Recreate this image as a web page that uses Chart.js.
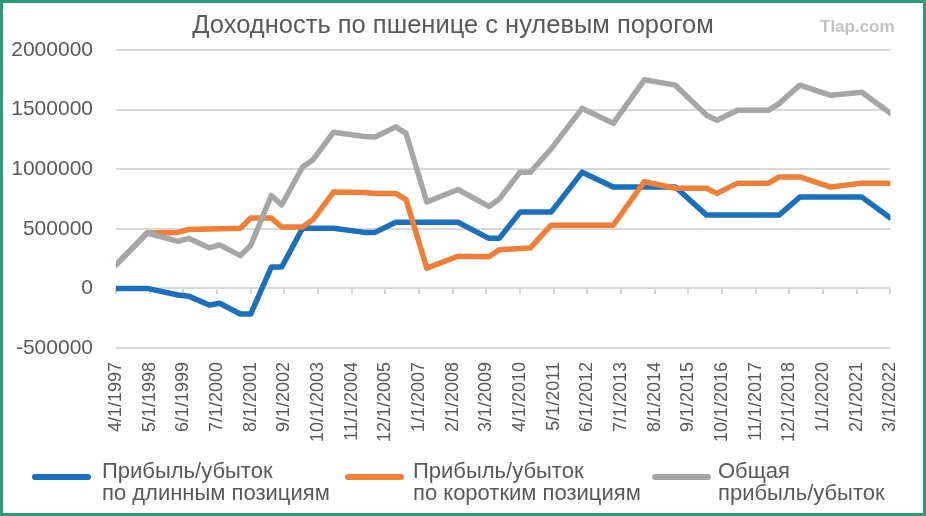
<!DOCTYPE html>
<html lang="ru">
<head>
  <meta charset="UTF-8">
  <title>Доходность по пшенице с нулевым порогом</title>
  <style>
    html, body {
      margin: 0;
      padding: 0;
      background: #ffffff;
    }
    #wrap {
      width: 926px;
      height: 516px;
    }
  </style>
</head>
<body>
  <div id="wrap">
    <canvas id="myChart" width="926" height="516"></canvas>
  </div>

  <script src="https://cdn.jsdelivr.net/npm/chart.js"></script>
  <script>
    // подписи оси X, шаг 13 месяцев
    const dateLabels = [
      '4/1/1997', '5/1/1998', '6/1/1999', '7/1/2000', '8/1/2001', '9/1/2002',
      '10/1/2003', '11/1/2004', '12/1/2005', '1/1/2007', '2/1/2008', '3/1/2009',
      '4/1/2010', '5/1/2011', '6/1/2012', '7/1/2013', '8/1/2014', '9/1/2015',
      '10/1/2016', '11/1/2017', '12/1/2018', '1/1/2020', '2/1/2021', '3/1/2022'
    ];
    const labelStep = 13;

    // месяц от 4/1/1997, где у линий есть излом
    const months = [0, 12, 24, 28, 36, 40, 48, 52, 60, 64, 72, 76, 84, 96, 100, 108, 112, 120,
      132, 144, 148, 156, 160, 168, 180, 192, 204, 216, 228, 232, 240, 252, 256, 264, 276, 288, 299];

    const longPnl = [0, 0, -55000, -65000, -140000, -125000, -215000, -215000, 180000, 180000,
      505000, 505000, 505000, 470000, 470000, 555000, 555000, 555000, 555000, 420000, 420000,
      640000, 640000, 640000, 975000, 850000, 850000, 850000, 615000, 615000, 615000, 615000,
      615000, 766000, 766000, 766000, 590000];

    const shortPnl = [197000, 465000, 470000, 495000, 498000, 500000, 505000, 590000, 590000,
      515000, 515000, 575000, 808000, 805000, 797000, 797000, 745000, 170000, 270000, 265000,
      325000, 335000, 340000, 530000, 530000, 530000, 895000, 840000, 840000, 797000, 883000,
      883000, 935000, 935000, 850000, 883000, 883000];

    const totalPnl = [197000, 465000, 395000, 420000, 340000, 365000, 275000, 360000, 780000,
      700000, 1018000, 1078000, 1310000, 1275000, 1270000, 1355000, 1300000, 725000, 830000,
      688000, 750000, 975000, 975000, 1170000, 1510000, 1385000, 1750000, 1705000, 1453000,
      1411000, 1495000, 1495000, 1550000, 1705000, 1620000, 1645000, 1470000];

    const seriesNames = [
      ['Прибыль/убыток', 'по длинным позициям'],
      ['Прибыль/убыток', 'по коротким позициям'],
      ['Общая', 'прибыль/убыток']
    ];
    const seriesColors = ['#1a70bd', '#ef7f36', '#a6a6a6'];

    const textColor = '#595959';
    const fontFamily = '"Liberation Sans", Arial, sans-serif';
    const lastMonth = labelStep * (dateLabels.length - 1);

    function toPoints(values) {
      return months.map((m, i) => ({ x: m, y: values[i] }));
    }

    // заголовок, водяной знак, легенда и рамка
    const decor = {
      id: 'decor',
      beforeDraw(chart) {
        const ctx = chart.ctx;
        ctx.save();
        ctx.fillStyle = '#ffffff';
        ctx.fillRect(0, 0, chart.width, chart.height);
        ctx.restore();
      },
      afterDraw(chart) {
        const ctx = chart.ctx;
        ctx.save();

        ctx.fillStyle = textColor;
        ctx.textAlign = 'center';
        ctx.textBaseline = 'alphabetic';
        ctx.font = '25.5px ' + fontFamily;
        ctx.fillText('Доходность по пшенице с нулевым порогом', 453, 33);

        ctx.fillStyle = '#c2c2c2';
        ctx.font = 'bold 17px ' + fontFamily;
        ctx.textAlign = 'left';
        ctx.fillText('Tlap.com', 820, 32);

        // легенда
        const legendX = [35, 348, 655];
        const textX = [102, 413, 718];
        chart.data.datasets.forEach((ds, i) => {
          ctx.strokeStyle = ds.borderColor;
          ctx.lineWidth = 6;
          ctx.lineCap = 'round';
          ctx.beginPath();
          ctx.moveTo(legendX[i], 477);
          ctx.lineTo(legendX[i] + 53, 477);
          ctx.stroke();

          ctx.fillStyle = textColor;
          ctx.font = '22px ' + fontFamily;
          ctx.textAlign = 'left';
          ds.legendLines.forEach((line, j) => {
            ctx.fillText(line, textX[i], 478 + j * 22);
          });
        });

        ctx.strokeStyle = '#2f9a7b';
        ctx.lineWidth = 3;
        ctx.strokeRect(1.5, 1.5, chart.width - 3, chart.height - 3);
        ctx.restore();
      }
    };

    const ctx = document.getElementById('myChart').getContext('2d');
    new Chart(ctx, {
      type: 'line',
      data: {
        datasets: [
          { data: toPoints(longPnl), borderColor: seriesColors[0], legendLines: seriesNames[0], order: 3 },
          { data: toPoints(shortPnl), borderColor: seriesColors[1], legendLines: seriesNames[1], order: 2 },
          { data: toPoints(totalPnl), borderColor: seriesColors[2], legendLines: seriesNames[2], order: 1 }
        ]
      },
      options: {
        responsive: false,
        animation: false,
        elements: {
          line: { borderWidth: 5.5, tension: 0, borderJoinStyle: 'round', borderCapStyle: 'round', fill: false },
          point: { radius: 0, hoverRadius: 0 }
        },
        layout: {
          padding: { left: 0, right: 21, top: 50, bottom: 0 }
        },
        plugins: {
          legend: { display: false },
          title: { display: false },
          tooltip: { enabled: false }
        },
        scales: {
          x: {
            type: 'linear',
            min: 0,
            max: lastMonth,
            grid: { display: false, drawTicks: false },
            border: { display: false },
            ticks: {
              stepSize: labelStep,
              autoSkip: false,
              minRotation: 90,
              maxRotation: 90,
              padding: 14,
              color: textColor,
              font: { family: fontFamily, size: 18 },
              callback: (v) => dateLabels[v / labelStep] || ''
            },
            afterFit: (scale) => { scale.height = 168; }
          },
          // засечки на нулевой линии
          xTicks: {
            type: 'linear',
            axis: 'x',
            position: { y: 0 },
            min: 0,
            max: lastMonth,
            grid: { drawOnChartArea: false, drawTicks: true, tickLength: 6, color: '#d4d4d4', lineWidth: 2 },
            border: { display: false },
            ticks: { display: false, stepSize: labelStep }
          },
          y: {
            min: -500000,
            max: 2000000,
            grid: { color: '#d9d9d9', lineWidth: 2, drawTicks: false },
            border: { display: false },
            ticks: {
              stepSize: 500000,
              padding: 23,
              color: textColor,
              font: { family: fontFamily, size: 21 },
              callback: (v) => String(v)
            },
            afterFit: (scale) => { scale.width = 116; }
          }
        }
      },
      plugins: [decor]
    });
  </script>
</body>
</html>
